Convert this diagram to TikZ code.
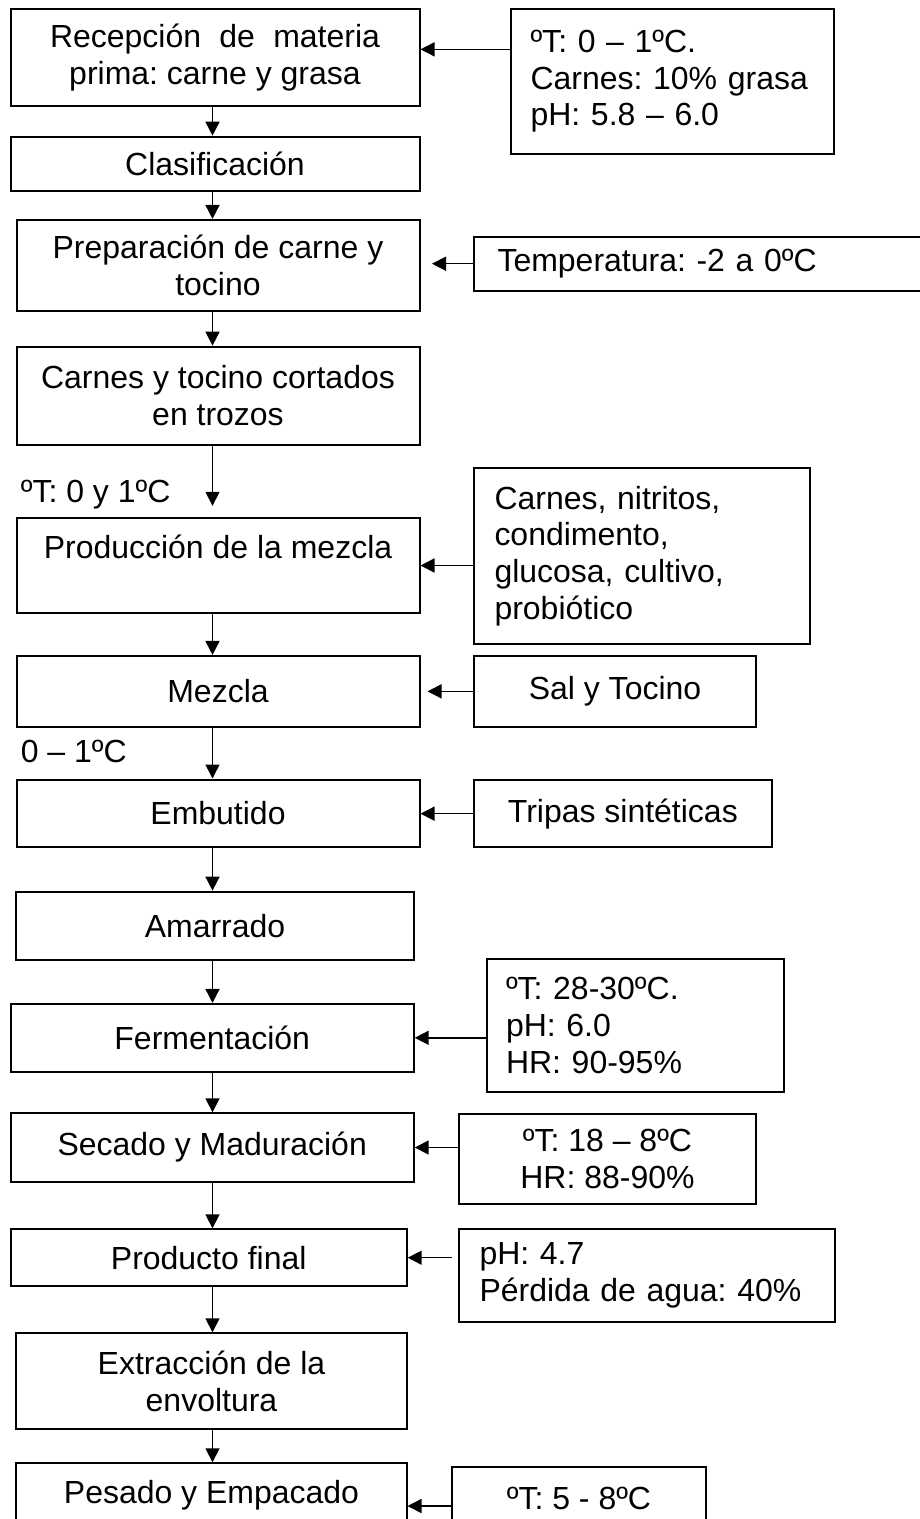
\documentclass[tikz,border=0pt]{standalone}
\usepackage{fontspec}
\setmainfont{Liberation Sans}
\usepackage{tikz}
\usetikzlibrary{arrows.meta,calc}

\begin{document}
\frenchspacing
\begin{tikzpicture}[font=\fontsize{18.2}{20.9}\selectfont,
paso/.style={draw,line width=0.04cm,inner sep=0cm,align=center},
dato/.style={draw,line width=0.04cm,inner ysep=0cm,align=left},
flecha/.style={line width=0.03cm,-{Triangle[length=0.28cm,width=0.28cm]}}]
\useasboundingbox (0cm,0cm) rectangle (18.4cm,-30.38cm);
\coordinate (eje) at (4.25cm,0cm);
\node[paso,minimum width=8.18cm,minimum height=1.934cm] (1) at (4.3 cm,-1.154cm) {\makebox[6.6cm][s]{Recepción de materia}\\prima: carne y grasa};
\node[paso,minimum width=8.18cm,minimum height=1.08cm] (2) at (4.3 cm,-3.274cm) {Clasificación};
\node[paso,minimum width=8.06cm,minimum height=1.814cm] (3) at (4.36 cm,-5.306cm) {Preparación de carne y\\tocino};
\node[paso,minimum width=8.06cm,minimum height=1.966cm] (4) at (4.36 cm,-7.916cm) {Carnes y tocino cortados\\en trozos};
\node[paso,minimum width=8.06cm,minimum height=1.888cm] (5) at (4.36 cm,-11.31cm) {Producción de la mezcla\\\mbox{}};
\node[paso,minimum width=8.06cm,minimum height=1.414cm] (6) at (4.36 cm,-13.826cm) {Mezcla};
\node[paso,minimum width=8.06cm,minimum height=1.356cm] (7) at (4.36 cm,-16.268cm) {Embutido};
\node[paso,minimum width=7.946cm,minimum height=1.366cm] (8) at (4.3 cm,-18.516cm) {Amarrado};
\node[paso,minimum width=8.06cm,minimum height=1.354cm] (9) at (4.244 cm,-20.756cm) {Fermentación};
\node[paso,minimum width=8.06cm,minimum height=1.368cm] (10) at (4.244 cm,-22.95cm) {Secado y Maduración};
\node[paso,minimum width=7.92cm,minimum height=1.134cm] (11) at (4.174 cm,-25.154cm) {Producto final};
\node[paso,minimum width=7.8cm,minimum height=1.92cm] (12) at (4.23 cm,-27.626cm) {Extracción de la\\envoltura};
\node[paso,minimum width=7.8cm,minimum height=1.268cm] (13) at (4.23 cm,-29.9cm) {Pesado y Empacado};
\node[dato,inner xsep=0.4cm,text width=5.678cm,minimum height=2.906cm] (14) at (13.45 cm,-1.627cm) {ºT: 0 – 1ºC.\\Carnes: 10\% grasa\\pH: 5.8 – 6.0};
\node[dato,inner xsep=0.47cm,text width=8.28cm,minimum height=1.08cm] (15) at (14.09 cm,-5.274cm) {Temperatura: -2 a 0ºC};
\node[dato,inner xsep=0.41cm,text width=5.9cm,minimum height=3.526cm] (16) at (12.84 cm,-11.117cm) {Carnes, nitritos,\\condimento,\\glucosa, cultivo,\\probiótico};
\node[paso,minimum width=5.64cm,minimum height=1.414cm] (17) at (12.3 cm,-13.827cm) {Sal y Tocino};
\node[paso,minimum width=5.954cm,minimum height=1.346cm] (18) at (12.457 cm,-16.273cm) {Tripas sintéticas};
\node[dato,inner xsep=0.38cm,text width=5.17cm,minimum height=2.648cm] (19) at (12.705 cm,-20.51cm) {ºT: 28-30ºC.\\pH: 6.0\\HR: 90-95\%};
\node[paso,minimum width=5.94cm,minimum height=1.8cm] (20) at (12.15 cm,-23.18cm) {ºT: 18 – 8ºC\\HR: 88-90\%};
\node[dato,inner xsep=0.41cm,text width=6.69cm,minimum height=1.848cm] (21) at (12.935 cm,-25.51cm) {pH: 4.7\\Pérdida de agua: 40\%};
\node[paso,minimum width=5.08cm,minimum height=1.252cm] (22) at (11.58 cm,-29.96cm) {ºT: 5 - 8ºC};
\node[inner sep=0cm,anchor=west] (23) at (0.41 cm,-9.9cm) {ºT: 0 y 1ºC};
\node[inner sep=0cm,anchor=west] (24) at (0.41 cm,-15.034cm) {0 – 1ºC};
\draw[flecha] (1.south -| eje) -- (2.north -| eje);
\draw[flecha] (2.south -| eje) -- (3.north -| eje);
\draw[flecha] (3.south -| eje) -- (4.north -| eje);
\draw[flecha,shorten >=0.23cm] (4.south -| eje) -- (5.north -| eje);
\draw[flecha] (5.south -| eje) -- (6.north -| eje);
\draw[flecha] (6.south -| eje) -- (7.north -| eje);
\draw[flecha] (7.south -| eje) -- (8.north -| eje);
\draw[flecha] (8.south -| eje) -- (9.north -| eje);
\draw[flecha] (9.south -| eje) -- (10.north -| eje);
\draw[flecha] (10.south -| eje) -- (11.north -| eje);
\draw[flecha] (11.south -| eje) -- (12.north -| eje);
\draw[flecha] (12.south -| eje) -- (13.north -| eje);
\draw[flecha] ([yshift=0.64cm]14.west) -- ([yshift=0.64cm]14.west -| 1.east);
\draw[flecha,shorten >=0.23cm] (15.west) -- (15.west -| 3.east);
\draw[flecha] (16.west |- 5.east) -- (5.east);
\draw[flecha,shorten >=0.14cm] (17.west) -- (17.west -| 6.east);
\draw[flecha] (18.west) -- (18.west -| 7.east);
\draw[flecha] (19.west |- 9.east) -- (9.east);
\draw[flecha] (20.west |- 10.east) -- (10.east);
\draw[flecha,shorten <=0.12cm] (21.west |- 11.east) -- (11.east);
\draw[flecha] ([yshift=-0.16cm]22.west) -- ([yshift=-0.16cm]22.west -| 13.east);
\end{tikzpicture}
\end{document}
